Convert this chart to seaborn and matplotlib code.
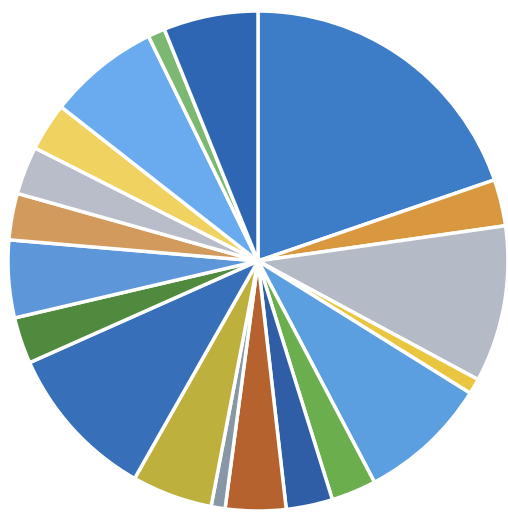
import numpy as np
import pandas as pd
import seaborn as sns
import matplotlib
matplotlib.use("Agg")
import matplotlib.pyplot as plt

# slice shares in percent, read clockwise from 12 o'clock
shares = [19.7, 3.0, 10.1, 1.0, 8.4, 2.9, 3.0, 3.9, 0.9, 5.2,
          10.1, 3.0, 5.0, 3.0, 3.1, 3.1, 7.2, 1.1, 6.1]
slice_colors = ["#3d7cc6", "#d9983f", "#b5bac7", "#e9c540", "#5c9fe0",
                "#6aae4e", "#2f5ea6", "#b5622e", "#8797a6", "#bdb03c",
                "#3770b9", "#4f8a3e", "#5d97da", "#d39a5d", "#b9bdc9",
                "#f0d261", "#6aabf0", "#7cb872", "#2f66b3"]

df = pd.DataFrame({"share": shares, "color": slice_colors})

sns.set_theme(style="white")
palette = sns.color_palette(df["color"].tolist())

fig = plt.figure(figsize=(5.08, 5.13), dpi=100)
ax = fig.add_axes([0, 0, 1, 1])
ax.pie(df["share"], colors=palette, startangle=90, counterclock=False,
       radius=1.0, wedgeprops={"edgecolor": "white", "linewidth": 2.5})
ax.set_aspect("auto")
# place the pie like the scan: centre near (258, 261) px, radius ~250 px
ax.set_xlim(-1.032, 1.0)
ax.set_ylim(-1.008, 1.044)
ax.axis("off")

fig.savefig("out.png", dpi=100, facecolor="white")
